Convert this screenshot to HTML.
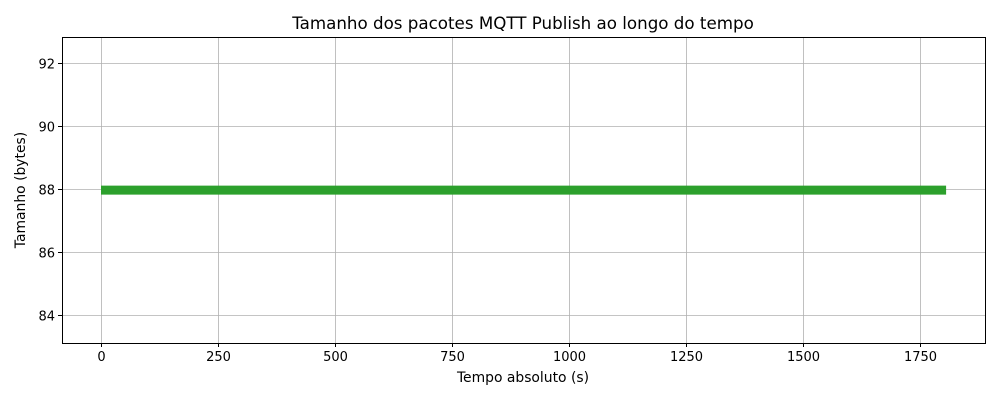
<!DOCTYPE html>
<html><head><meta charset="utf-8"><style>
body{margin:0;background:#fff;}
svg text{font-family:"DejaVu Sans","Liberation Sans",sans-serif;fill:#000;}
</style></head><body>
<svg id="chart" width="1000" height="400" xmlns="http://www.w3.org/2000/svg">
<rect width="1000" height="400" fill="#fff"/>
<g id="grid"></g>
<g id="series"></g>
<rect x="62.5" y="37.5" width="923" height="306" fill="none" stroke="#000" stroke-width="1"/>
<g id="ticks"></g>
<text x="523" y="29" font-size="16.7" text-anchor="middle">Tamanho dos pacotes MQTT Publish ao longo do tempo</text>
<text x="523" y="382" font-size="13.9" text-anchor="middle">Tempo absoluto (s)</text>
<text x="25" y="190" font-size="13.9" text-anchor="middle" transform="rotate(-90 25 190)">Tamanho (bytes)</text>
</svg>
<script>
const xTicks=[0,250,500,750,1000,1250,1500,1750];
const yTicks=[84,86,88,90,92];
const times=[0,60,120,180,240,300,360,420,480,540,600,660,720,780,840,900,960,1020,1080,1140,1200,1260,1320,1380,1440,1500,1560,1620,1680,1740,1805];
const sizes=[88,88,88,88,88,88,88,88,88,88,88,88,88,88,88,88,88,88,88,88,88,88,88,88,88,88,88,88,88,88,88];
const X0=62,X1=985,Y0=343,Y1=37,xmin=-83.3,xmax=1888,ymin=83.11,ymax=92.83;
const xs=v=>X0+(v-xmin)/(xmax-xmin)*(X1-X0);
const ys=v=>Y0-(v-ymin)/(ymax-ymin)*(Y0-Y1);
const NS="http://www.w3.org/2000/svg";
function mk(t,a,p){const e=document.createElementNS(NS,t);for(const k in a)e.setAttribute(k,a[k]);p.appendChild(e);return e;}
const g=document.getElementById('grid'),tk=document.getElementById('ticks'),s=document.getElementById('series');
xTicks.forEach(v=>{const x=Math.round(xs(v))+0.5;
 const l=mk('line',{x1:x,x2:x,y1:Y1,y2:Y0,stroke:'#b0b0b0','stroke-width':0.8},g);
 
 
 const t=mk('line',{x1:x,x2:x,y1:Y0,y2:Y0+4,stroke:'#000'},tk);
 
 
 const tx=mk('text',{x:x,y:Y0+18,'font-size':13,'text-anchor':'middle'},tk);tx.textContent=v;
 
 
});
yTicks.forEach(v=>{const y=Math.round(ys(v))+0.5;
 const l=mk('line',{x1:X0,x2:X1,y1:y,y2:y,stroke:'#b0b0b0','stroke-width':0.8},g);
 
 
 const t=mk('line',{x1:X0-4,x2:X0,y1:y,y2:y,stroke:'#000'},tk);
 
 
 const tx=mk('text',{x:X0-7,y:y+5,'font-size':13,'text-anchor':'end'},tk);tx.textContent=v;
 
 
});
const pts=times.map((t,i)=>xs(t).toFixed(1)+','+(ys(sizes[i])+1).toFixed(1)).join(' ');
const pl=mk('polyline',{points:pts,fill:'none',stroke:'#2ca02c','stroke-width':9,'stroke-linecap':'butt','stroke-linejoin':'miter'},s);


</script>
</body></html>
